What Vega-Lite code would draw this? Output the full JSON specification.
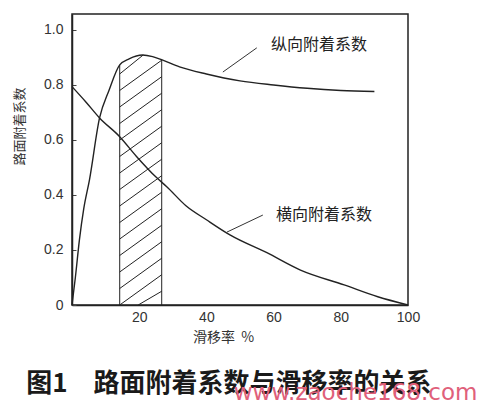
{
  "$schema": "https://vega.github.io/schema/vega-lite/v6.json",
  "width": 336,
  "height": 291,
  "autosize": {"type": "none"},
  "padding": {"left": 72, "top": 14, "right": 78, "bottom": 109},
  "background": "white",
  "config": {
    "view": {"stroke": "#222", "strokeWidth": 1.5},
    "axis": {
      "grid": false,
      "domainColor": "#222",
      "domainWidth": 1.5,
      "tickColor": "#444",
      "labelColor": "#333",
      "labelFont": "Liberation Sans",
      "labelFontSize": 14,
      "labelOverlap": false,
      "titleFont": "Noto Sans CJK SC",
      "titleFontWeight": "normal",
      "titleColor": "#333"
    }
  },
  "datasets": {
    "curves": [
      {"series": "纵向", "s": 0, "a": 0},
      {"series": "纵向", "s": 1, "a": 0.1},
      {"series": "纵向", "s": 2.2, "a": 0.236},
      {"series": "纵向", "s": 3.5, "a": 0.35},
      {"series": "纵向", "s": 5.2, "a": 0.455},
      {"series": "纵向", "s": 8.2, "a": 0.68},
      {"series": "纵向", "s": 11, "a": 0.78},
      {"series": "纵向", "s": 14.2, "a": 0.873},
      {"series": "纵向", "s": 17, "a": 0.895},
      {"series": "纵向", "s": 21, "a": 0.909},
      {"series": "纵向", "s": 24, "a": 0.903},
      {"series": "纵向", "s": 27, "a": 0.89},
      {"series": "纵向", "s": 32, "a": 0.866},
      {"series": "纵向", "s": 40, "a": 0.84},
      {"series": "纵向", "s": 50, "a": 0.815},
      {"series": "纵向", "s": 60, "a": 0.8},
      {"series": "纵向", "s": 70, "a": 0.788},
      {"series": "纵向", "s": 80, "a": 0.78},
      {"series": "纵向", "s": 90, "a": 0.776},
      {"series": "横向", "s": 0, "a": 0.794},
      {"series": "横向", "s": 4, "a": 0.74},
      {"series": "横向", "s": 8.2, "a": 0.68},
      {"series": "横向", "s": 14.2, "a": 0.612},
      {"series": "横向", "s": 19.2, "a": 0.54},
      {"series": "横向", "s": 25, "a": 0.465},
      {"series": "横向", "s": 28.2, "a": 0.43},
      {"series": "横向", "s": 34, "a": 0.36},
      {"series": "横向", "s": 40, "a": 0.31},
      {"series": "横向", "s": 47, "a": 0.255},
      {"series": "横向", "s": 58, "a": 0.19},
      {"series": "横向", "s": 68, "a": 0.127},
      {"series": "横向", "s": 81, "a": 0.073},
      {"series": "横向", "s": 91, "a": 0.03},
      {"series": "横向", "s": 100, "a": 0}
    ],
    "hatch": [
      {"x": 14.2, "y": 0, "x2": 14.2, "y2": 0.873},
      {"x": 26.7, "y": 0, "x2": 26.7, "y2": 0.892},
      {"x": 14.2, "y": 0.84, "x2": 21.2, "y2": 0.909},
      {"x": 14.2, "y": 0.78, "x2": 26.7, "y2": 0.89},
      {"x": 14.2, "y": 0.72, "x2": 26.7, "y2": 0.83},
      {"x": 14.2, "y": 0.66, "x2": 26.7, "y2": 0.77},
      {"x": 14.2, "y": 0.60, "x2": 26.7, "y2": 0.71},
      {"x": 14.2, "y": 0.54, "x2": 26.7, "y2": 0.65},
      {"x": 14.2, "y": 0.48, "x2": 26.7, "y2": 0.59},
      {"x": 14.2, "y": 0.42, "x2": 26.7, "y2": 0.53},
      {"x": 14.2, "y": 0.36, "x2": 26.7, "y2": 0.47},
      {"x": 14.2, "y": 0.30, "x2": 26.7, "y2": 0.41},
      {"x": 14.2, "y": 0.24, "x2": 26.7, "y2": 0.35},
      {"x": 14.2, "y": 0.18, "x2": 26.7, "y2": 0.29},
      {"x": 14.2, "y": 0.12, "x2": 26.7, "y2": 0.23},
      {"x": 14.2, "y": 0.06, "x2": 26.7, "y2": 0.17},
      {"x": 14.2, "y": 0.0, "x2": 26.7, "y2": 0.11},
      {"x": 19.7, "y": 0.0, "x2": 26.7, "y2": 0.05}
    ],
    "leaders": [
      {"x": 44.9, "y": 0.847, "x2": 55.0, "y2": 0.935},
      {"x": 46.1, "y": 0.265, "x2": 56.8, "y2": 0.327}
    ],
    "labels": [
      {"x": 73.5, "y": 0.945, "text": "纵向附着系数"},
      {"x": 75.0, "y": 0.327, "text": "横向附着系数"}
    ],
    "caption": [
      {"x": 46.7, "y": -0.318, "text": "图1\u3000路面附着系数与滑移率的关系"}
    ],
    "mark": [
      {"x": 84.4, "y": -0.345, "text": "www.zaoche168.com"}
    ]
  },
  "layer": [
    {
      "data": {"name": "hatch"},
      "mark": {"type": "rule", "color": "#222", "strokeWidth": 1},
      "encoding": {
        "x": {"field": "x", "type": "quantitative", "scale": {"domain": [0, 100], "nice": false},
          "axis": {
            "values": [20, 40, 60, 80, 100],
            "format": "d",
            "ticks": false,
            "labelFlush": false,
            "labelPadding": 5,
            "title": "滑移率\u00a0\u00a0%",
            "titleFontSize": 14,
            "titleX": 151,
            "titlePadding": 6
          }},
        "y": {"field": "y", "type": "quantitative", "scale": {"domain": [0, 1.058], "nice": false},
          "axis": {
            "values": [0, 0.1, 0.2, 0.3, 0.4, 0.5, 0.6, 0.7, 0.8, 0.9, 1.0],
            "labelExpr": "datum.value == 0 ? '0' : (round(datum.value * 10) % 2 == 0 ? format(datum.value, '.1f') : '')",
            "tickSize": -4,
            "labelPadding": 13,
            "title": "路面附着系数",
            "titleFontSize": 13,
            "titleX": -46,
            "titleY": 112
          }},
        "x2": {"field": "x2"},
        "y2": {"field": "y2"}
      }
    },
    {
      "data": {"name": "curves"},
      "mark": {"type": "line", "color": "#222", "strokeWidth": 1.4, "interpolate": "monotone"},
      "encoding": {
        "x": {"field": "s", "type": "quantitative"},
        "y": {"field": "a", "type": "quantitative"},
        "detail": {"field": "series"}
      }
    },
    {
      "data": {"name": "leaders"},
      "mark": {"type": "rule", "color": "#333", "strokeWidth": 1},
      "encoding": {
        "x": {"field": "x", "type": "quantitative"},
        "y": {"field": "y", "type": "quantitative"},
        "x2": {"field": "x2"},
        "y2": {"field": "y2"}
      }
    },
    {
      "data": {"name": "labels"},
      "mark": {"type": "text", "font": "Noto Sans CJK SC", "fontSize": 16, "color": "#222", "align": "center", "baseline": "middle"},
      "encoding": {
        "x": {"field": "x", "type": "quantitative"},
        "y": {"field": "y", "type": "quantitative"},
        "text": {"field": "text"}
      }
    },
    {
      "data": {"name": "caption"},
      "mark": {"type": "text", "font": "Noto Sans CJK SC", "fontSize": 26, "fontWeight": "bold", "color": "#1a1a1a", "align": "center", "baseline": "alphabetic", "clip": false},
      "encoding": {
        "x": {"field": "x", "type": "quantitative"},
        "y": {"field": "y", "type": "quantitative"},
        "text": {"field": "text"}
      }
    },
    {
      "data": {"name": "mark"},
      "mark": {"type": "text", "font": "DejaVu Sans", "fontSize": 23, "color": "#e0607a", "align": "center", "baseline": "alphabetic", "clip": false},
      "encoding": {
        "x": {"field": "x", "type": "quantitative"},
        "y": {"field": "y", "type": "quantitative"},
        "text": {"field": "text"}
      }
    }
  ]
}
